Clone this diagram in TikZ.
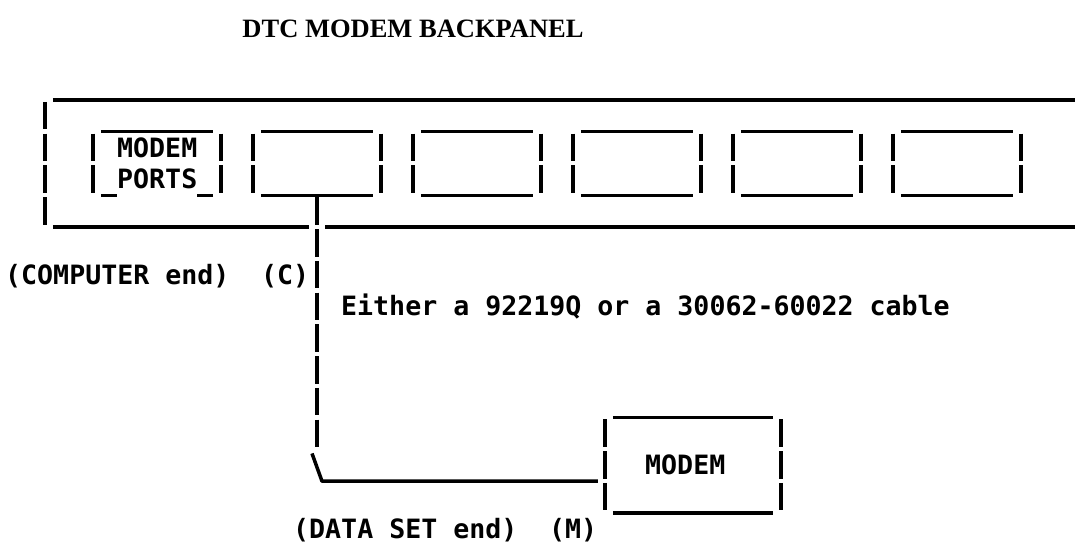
\documentclass[tikz,border=0pt]{standalone}
\usepackage{fontspec}
\setmonofont{DejaVu Sans Mono}
\newfontfamily\titlefont{Liberation Serif}
\usepackage{tikz}
\usetikzlibrary{calc}
\tikzset{
  hbar/.style={line width=3.5pt, line cap=butt},
  vbar/.style={line width=3.5pt, dash pattern=on 27.5pt off 4.25pt},
  portbox/.style={rectangle, inner sep=0pt, minimum width=128pt, minimum height=63.5pt},
  modembox/.style={rectangle, inner sep=0pt, minimum width=176pt, minimum height=95.25pt},
  panelbox/.style={rectangle, inner sep=0pt, minimum width=1046pt, minimum height=127pt},
  ascii/.style={inner sep=0pt, anchor=base west,
    font=\ttfamily\bfseries\fontsize{26.6}{30}\selectfont},
  heading/.style={inner sep=0pt, anchor=base,
    font=\titlefont\bfseries\fontsize{26.5}{30}\selectfont},
}

\begin{document}
\begin{tikzpicture}[x=1pt, y=-1pt]
\fill[white] (0,0) rectangle (1075,547);
\useasboundingbox (0,0) rectangle (1075,547);

% Title
\node[heading] (title) at (413,37) {DTC MODEM BACKPANEL};

% Backpanel
\node[panelbox] (panel) at (568,163.5) {};
\foreach \i in {1,...,6} {
  \node[portbox] (port\i) at ({157+160*(\i-1)},163.5) {};
  \draw[hbar] ([xshift=8pt]port\i.north west) -- ([xshift=-8pt]port\i.north east);
  \draw[vbar] ([yshift=-2pt]port\i.north west) -- ([yshift=2pt]port\i.south west);
  \draw[vbar] ([yshift=-2pt]port\i.north east) -- ([yshift=2pt]port\i.south east);
}
\foreach \i in {2,...,6}
  \draw[hbar] ([xshift=8pt]port\i.south west) -- ([xshift=-8pt]port\i.south east);
\draw[hbar] ([xshift=8pt]port1.south west) -- ++(16,0);
\draw[hbar] ([xshift=-8pt]port1.south east) -- ++(-16,0);
\node[ascii] (portsA) at (117,157) {MODEM};
\node[ascii] (portsB) at (117,188.75) {PORTS};

\draw[hbar] ([xshift=8pt]panel.north west) -- (panel.north east);
\draw[vbar] ([yshift=-2pt]panel.north west) -- ([yshift=2pt]panel.south west);
\draw[hbar] ([xshift=8pt]panel.south west) -- ([xshift=-8pt]panel.south -| port2.south);
\draw[hbar] ([xshift=8pt]panel.south -| port2.south) -- (panel.south east);

% Modem
\node[modembox] (modem) at (693,465.125) {};
\draw[hbar] ([xshift=8pt]modem.north west) -- ([xshift=-8pt]modem.north east);
\draw[hbar] ([xshift=8pt]modem.south west) -- ([xshift=-8pt]modem.south east);
\draw[vbar] ([yshift=-2pt]modem.north west) -- ([yshift=2pt]modem.south west);
\draw[vbar] ([yshift=-2pt]modem.north east) -- ([yshift=2pt]modem.south east);
\node[ascii] (modemlbl) at (645,474.5) {MODEM};

% Cable
\draw[vbar] ([yshift=-2pt]port2.south) -- ++(0,250) coordinate (cablefoot);
\coordinate (cablekink) at ([shift={(5,33.75)}]cablefoot);
\draw[hbar, line join=round] ([shift={(-5,6)}]cablefoot) -- (cablekink)
  -- ([xshift=-7pt]modem.west |- cablekink);

% Labels
\node[ascii] (compend) at (5,284) {(COMPUTER end)};
\node[ascii] (cend) at (261,284) {(C)};
\node[ascii] (cablelbl) at (341,315.75) {Either a 92219Q or a 30062-60022 cable};
\node[ascii] (dataend) at (293,538) {(DATA SET end)};
\node[ascii] (mend) at (549,538) {(M)};

\end{tikzpicture}
\end{document}
